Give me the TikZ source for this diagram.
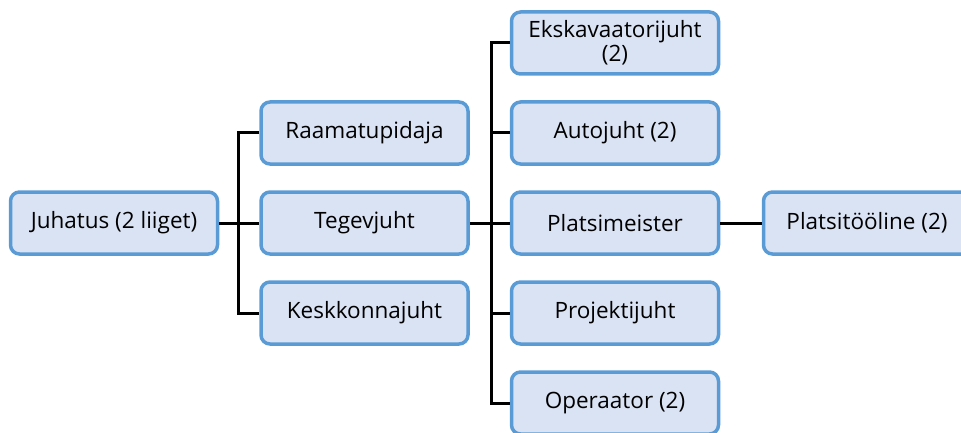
\documentclass[tikz,border=0pt]{standalone}
\usepackage{fontspec}
\setmainfont{Open Sans}
\usepackage{xcolor}
\usepackage{tikz}
\usetikzlibrary{calc}
\definecolor{BoxBlue}{RGB}{91, 155, 213}
\definecolor{BoxFill}{RGB}{218, 227, 243}

\begin{document}
\begin{tikzpicture}[x=1pt, y=-1pt, font=\fontsize{22.5}{24}\selectfont,
  blk/.style={draw=BoxBlue, line width=3.5pt, rounded corners=9pt, fill=BoxFill,
              align=center, inner sep=2pt, minimum height=62pt, minimum width=207pt},
  lnk/.style={draw=black, line width=3pt}]
  \useasboundingbox (0,0) rectangle (961,433);
  \coordinate (busA) at (238,223);
  \coordinate (busB) at (491,223);
  \node[blk] (juh)  at (114,223)   {Juhatus (2 liiget)};
  \node[blk] (raam) at (364.5,133) {Raamatupidaja};
  \node[blk] (teg)  at (364.5,223) {Tegevjuht};
  \node[blk] (kesk) at (364.5,313) {Keskkonnajuht};
  \node[blk] (eksk) at (615,43)    {Ekskavaatorijuht\\(2)};
  \node[blk] (auto) at (615,133)   {Autojuht (2)};
  \node[blk] (plat) at (615,223)   {Platsimeister};
  \node[blk] (proj) at (615,313)   {Projektijuht};
  \node[blk] (oper) at (615,403)   {Operaator (2)};
  \node[blk] (tool) at (867,223)   {Platsitööline (2)};
  % connectors
  \draw[lnk] (juh.east) -- (teg.west);
  \draw[lnk] (raam.west) -| (busA) |- (kesk.west);
  \draw[lnk] (teg.east) -- (plat.west);
  \draw[lnk] (eksk.west) -| (busB) |- (oper.west);
  \draw[lnk] (auto.west) -| (busB);
  \draw[lnk] (proj.west) -| (busB);
  \draw[lnk] (plat.east) -- (tool.west);
\end{tikzpicture}
\end{document}
